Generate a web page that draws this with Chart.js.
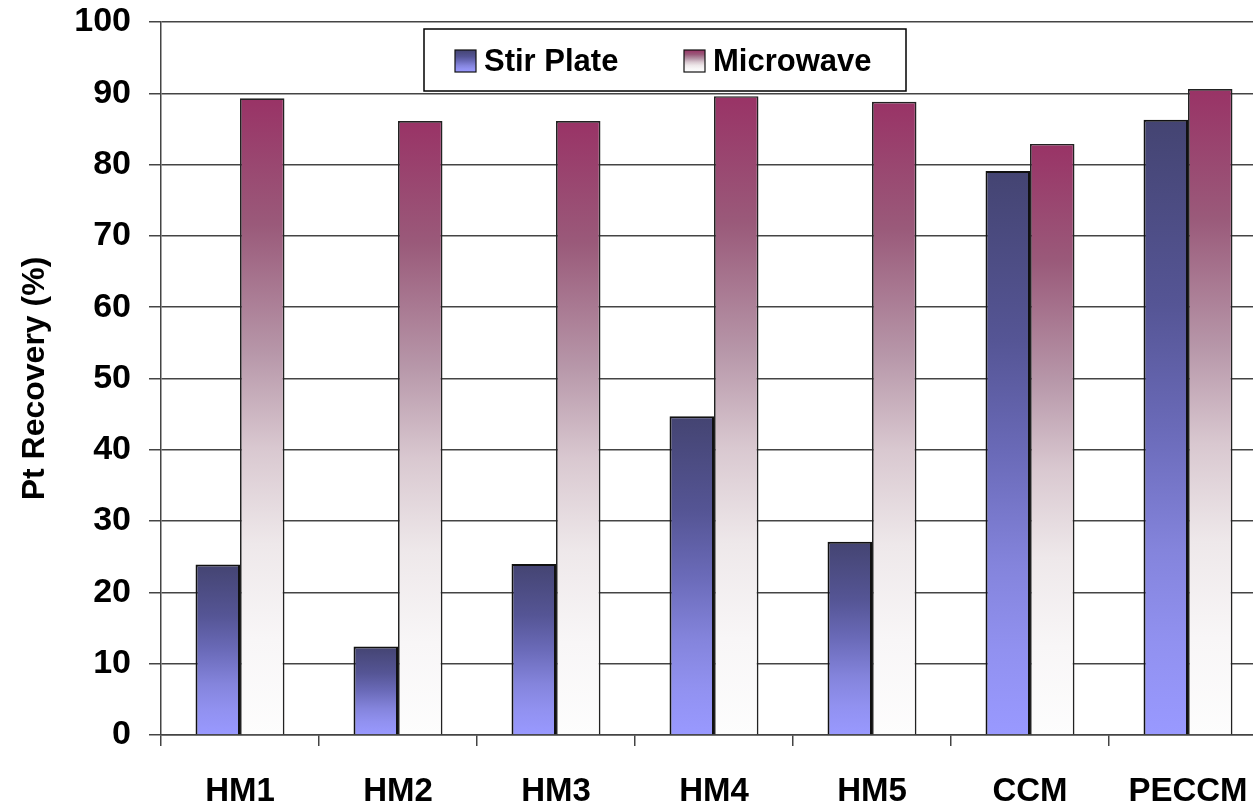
<!DOCTYPE html>
<html>
<head>
<meta charset="utf-8">
<title>Pt Recovery</title>
<script src="https://cdn.jsdelivr.net/npm/chart.js@4/dist/chart.umd.min.js"></script>
<style>
  html, body { margin: 0; padding: 0; background: #fff; overflow: hidden; }
  #wrap { width: 1253px; height: 806px; overflow: hidden; position: relative; }
  #wrap canvas { position: absolute; left: 0; top: 0; }
</style>
</head>
<body>
<div id="wrap"><canvas id="c" width="1268" height="806"></canvas></div>
<script>
// Pt recovery by digestion method for each sample
const categories = ['HM1', 'HM2', 'HM3', 'HM4', 'HM5', 'CCM', 'PECCM'];
const stirPlate  = [23.9, 12.4, 24.0, 44.7, 27.1, 79.1, 86.3];
const microwave  = [89.3, 86.1, 86.1, 89.6, 88.8, 82.9, 90.6];
const seriesNames = ['Stir Plate', 'Microwave'];
const yMin = 0, yMax = 100, yStep = 10;

const FONT = "'Liberation Sans', Arial, Helvetica, sans-serif";

// vertical fills, top of bar to its base
const stirStops = [[0, '#444472'], [0.3, '#555595'], [0.5, '#6a6ab8'], [0.7, '#8484dc'], [0.85, '#9191f0'], [1, '#9999ff']];
const microStops = [[0, '#993366'], [0.2, '#9a5a7a'], [0.4, '#b797a9'], [0.55, '#d9c8d0'], [0.7, '#eee8ea'], [0.85, '#f8f6f7'], [1, '#fdfdfd']];

function makeGradient(c, y0, y1, stops) {
  const g = c.createLinearGradient(0, y0, 0, y1);
  stops.forEach(([o, col]) => g.addColorStop(o, col));
  return g;
}

function barFill(stops) {
  return (ctx) => {
    const chart = ctx.chart;
    if (!chart.chartArea || ctx.type !== 'data') return stops[2][1];
    const y = chart.scales.y;
    const top = y.getPixelForValue(ctx.parsed.y);
    const base = y.getPixelForValue(0);
    return makeGradient(chart.ctx, top, base, stops);
  };
}

// boxed legend drawn inside the plot area
const boxLegend = {
  id: 'boxLegend',
  afterDraw(chart) {
    const c = chart.ctx;
    const bx = 424, by = 29, bw = 482, bh = 62;
    c.save();
    c.fillStyle = '#fff';
    c.fillRect(bx, by, bw, bh);
    c.strokeStyle = '#000';
    c.lineWidth = 1.5;
    c.strokeRect(bx, by, bw, bh);
    const items = [
      { x: 455, stops: stirStops, label: chart.data.datasets[0].label },
      { x: 684, stops: microStops, label: chart.data.datasets[1].label }
    ];
    c.font = 'bold 31px ' + FONT;
    c.textBaseline = 'middle';
    items.forEach(it => {
      const my = 50, ms = 21, mh = 22;
      c.fillStyle = makeGradient(c, my, my + mh, it.stops);
      c.fillRect(it.x, my, ms, mh);
      c.strokeStyle = '#111';
      c.lineWidth = 1.2;
      c.strokeRect(it.x, my, ms, mh);
      c.fillStyle = '#000';
      c.fillText(it.label, it.x + 29, my + mh / 2 + 1);
    });
    c.restore();
  }
};

new Chart(document.getElementById('c'), {
  type: 'bar',
  data: {
    labels: categories,
    datasets: [
      {
        label: seriesNames[0],
        data: stirPlate,
        backgroundColor: barFill(stirStops),
        borderColor: '#111',
        borderWidth: 2,
        barPercentage: 1,
        categoryPercentage: 0.563
      },
      {
        label: seriesNames[1],
        data: microwave,
        backgroundColor: barFill(microStops),
        borderColor: '#222',
        borderWidth: 1.7,
        barPercentage: 1,
        categoryPercentage: 0.563
      }
    ]
  },
  options: {
    responsive: false,
    animation: false,
    devicePixelRatio: 1,
    layout: { padding: { top: 22, right: 1, left: 0, bottom: 0 } },
    plugins: {
      legend: { display: false },
      tooltip: { enabled: false }
    },
    scales: {
      x: {
        offset: true,
        grid: {
          offset: true,
          drawOnChartArea: false,
          drawTicks: true,
          tickLength: 11,
          color: '#444',
          lineWidth: 1.5
        },
        border: { display: true, color: '#444', width: 1.5 },
        ticks: {
          color: '#000',
          padding: 26,
          font: { family: FONT, size: 33, weight: 'bold' },
          maxRotation: 0,
          autoSkip: false
        },
        afterFit(scale) {
          scale.height = 71;
          scale.paddingLeft = 0;
          scale.paddingRight = 0;
        }
      },
      y: {
        min: yMin,
        max: yMax,
        grid: {
          color: '#444',
          lineWidth: 1.5,
          drawTicks: true,
          tickLength: 12
        },
        border: { display: true, color: '#444', width: 1.5 },
        ticks: {
          stepSize: yStep,
          color: '#000',
          padding: 18,
          font: { family: FONT, size: 34, weight: 'bold' }
        },
        title: {
          display: true,
          text: 'Pt Recovery (%)',
          color: '#000',
          font: { family: FONT, size: 32, weight: 'bold' },
          padding: { top: 16, bottom: 0 }
        },
        afterFit(scale) {
          scale.width = 161;
          scale.paddingTop = 0;
          scale.paddingBottom = 0;
        }
      }
    }
  },
  plugins: [boxLegend]
});
</script>
</body>
</html>
